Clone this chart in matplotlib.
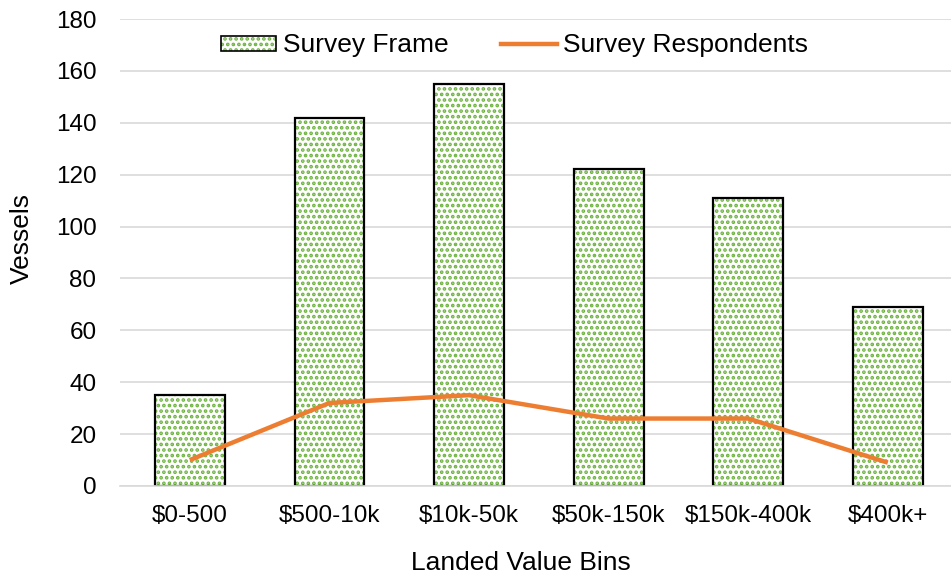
import matplotlib
matplotlib.use("Agg")
import matplotlib.pyplot as plt
from matplotlib.patches import Patch
from matplotlib.lines import Line2D
from matplotlib.legend_handler import HandlerTuple
import numpy as np

plt.rcParams['font.family'] = ['Liberation Sans', 'DejaVu Sans']
plt.rcParams['hatch.linewidth'] = 1.8

categories = ["$0-500", "$500-10k", "$10k-50k", "$50k-150k", "$150k-400k", "$400k+"]
survey_frame = [35, 142, 155, 122, 111, 69]
survey_respondents = [10, 32, 35, 26, 26, 9]
y_ticks = [0, 20, 40, 60, 80, 100, 120, 140, 160, 180]

GREEN = "#6DB33F"
ORANGE = "#ED7D31"
GRID = "#D9D9D9"
FS_TICK = 17.5
FS_TEXT = 19

fig = plt.figure(figsize=(9.51, 5.82), dpi=100)
ax = fig.add_axes([120 / 951, 1 - 486 / 582, 1 - 120 / 951, (486 - 19) / 582])

x = np.arange(len(categories))
width = 0.5

# dotted fill, then a black outline on top
ax.bar(x, survey_frame, width=width, color="white", edgecolor=GREEN,
       hatch="...", linewidth=0, zorder=2)
ax.bar(x, survey_frame, width=width, fill=False, edgecolor="black",
       linewidth=1.6, zorder=3)

ax.plot(x, survey_respondents, color=ORANGE, linewidth=3.2,
        solid_capstyle="butt", zorder=4)

ax.set_xlim(-0.5, -0.5 + (951 - 120) / 139.6)
ax.set_ylim(0, 180)
ax.set_yticks(y_ticks)
ax.set_xticks(x)
ax.set_xticklabels(categories, fontsize=FS_TICK)
ax.tick_params(axis="y", labelsize=FS_TICK, length=0, pad=17)
ax.tick_params(axis="x", length=0, pad=14)

ax.yaxis.grid(True, color=GRID, linewidth=1.2)
ax.set_axisbelow(True)
for side in ("top", "right", "left"):
    ax.spines[side].set_visible(False)
ax.spines["bottom"].set_color(GRID)
ax.spines["bottom"].set_linewidth(1.2)
ax.spines["bottom"].set_zorder(5)

ylab = ax.set_ylabel("Vessels", fontsize=FS_TEXT)
ylab.set_verticalalignment("center")
ax.yaxis.set_label_coords((22 - 120) / 831, (486 - 239) / 467)

xlab = ax.set_xlabel("Landed Value Bins", fontsize=FS_TEXT)
xlab.set_verticalalignment("center")
ax.xaxis.set_label_coords((521 - 120) / 831, (486 - 563) / 467)

frame_handle = (
    Patch(facecolor="white", edgecolor=GREEN, hatch="...", linewidth=0),
    Patch(fill=False, edgecolor="black", linewidth=1.2),
)
line_handle = Line2D([0], [0], color=ORANGE, linewidth=3.2)
ax.legend([frame_handle, line_handle], ["Survey Frame", "Survey Respondents"],
          handler_map={tuple: HandlerTuple(ndivide=1, pad=0)},
          ncol=2, loc="upper center", bbox_to_anchor=(0.475, 1.02),
          frameon=False, fontsize=FS_TEXT, handlelength=2.1, handleheight=0.5,
          columnspacing=2.0, handletextpad=0.25)

fig.savefig("out.png", dpi=100)
